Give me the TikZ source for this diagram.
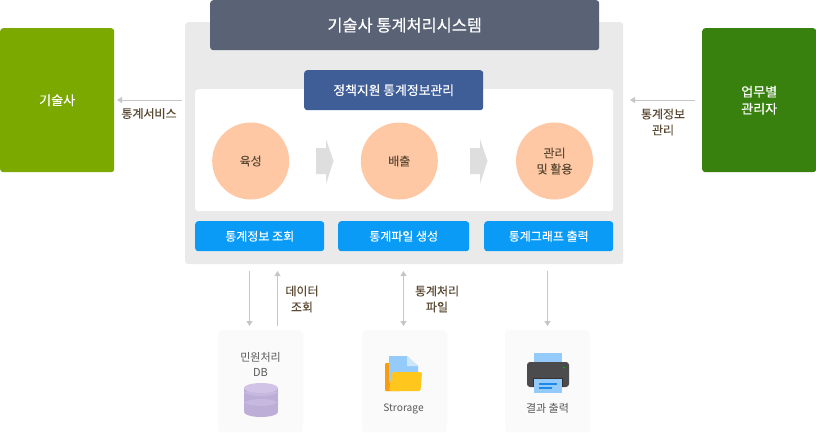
\documentclass[tikz,border=0pt]{standalone}
\usepackage{fontspec}
\setmainfont{Noto Sans CJK KR}
\newfontfamily\krm[FakeBold=0.2]{Noto Sans CJK KR}
\newfontfamily\krb[FakeBold=0.45]{Noto Sans CJK KR}
\usetikzlibrary{arrows.meta}
\definecolor{panel}{HTML}{EAEAEA}
\definecolor{lab}{HTML}{5B4A33}
\definecolor{arr}{HTML}{C6C6C6}
\definecolor{peach}{HTML}{FFC8A5}
\definecolor{btn}{HTML}{0A9BF7}
\definecolor{cardc}{HTML}{FAFAFA}
\definecolor{dbc}{HTML}{BDAED8}
\definecolor{dbm}{HTML}{C6B8DE}
\definecolor{dbl}{HTML}{D0C3E6}
\definecolor{headc}{HTML}{5A6276}
\definecolor{subc}{HTML}{3F5E98}
\definecolor{engc}{HTML}{7BA900}
\definecolor{mgrc}{HTML}{38810F}
\definecolor{paper}{HTML}{94CBFA}
\definecolor{paperl}{HTML}{CDE6FA}
\definecolor{foldy}{HTML}{FFC61E}
\definecolor{foldo}{HTML}{F99D0E}
\definecolor{printc}{HTML}{4B4B4E}
\definecolor{printd}{HTML}{323234}
\definecolor{lineb}{HTML}{1E88E5}
\tikzset{
 box/.style={rounded corners=3pt,inner sep=0pt,anchor=north west,text=white},
 lbl/.style={text=lab,font=\krm\fontsize{12}{16}\selectfont,align=center,inner sep=0pt},
 circ/.style={circle,fill=peach,minimum size=77pt,inner sep=0pt,text=lab,font=\krm\fontsize{12}{16}\selectfont,align=center},
 btnbox/.style={box,fill=btn,minimum height=30pt,font=\krm\fontsize{12}{16}\selectfont},
 card/.style={box,fill=cardc,minimum width=85pt,minimum height=102pt},
 ctext/.style={text=black!65,font=\fontsize{11}{15}\selectfont,align=center,inner sep=0pt},
 con/.style={draw=arr,line width=1pt,-{Triangle[length=5pt,width=6pt]}},
 chev/.style={fill=black!13,draw=none}
}
\begin{document}
\begin{tikzpicture}[x=1pt,y=-1pt]
\useasboundingbox (0,0) rectangle (816,432);
\node[box,fill=panel,minimum width=438pt,minimum height=242pt] (main) at (185,22) {};
\node[box,fill=white,minimum width=418pt,minimum height=122pt] (inner) at (195,89) {};
\node[box,fill=headc,minimum width=389pt,minimum height=50pt,font=\krb\fontsize{16.4}{20}\selectfont] (head) at (210,0) {기술사 통계처리시스템};
\node[box,fill=subc,minimum width=179pt,minimum height=40pt,font=\krb\fontsize{12.8}{16}\selectfont] (sub) at (304,70) {정책지원 통계정보관리};
\node[box,fill=engc,minimum width=114pt,minimum height=144pt,font=\krb\fontsize{13}{16}\selectfont] (eng) at (0,28) {기술사};
\node[box,fill=mgrc,minimum width=114pt,minimum height=144pt,align=center,font=\krb\fontsize{13}{17}\selectfont] (mgr) at (702,28) {업무별\\관리자};
\node[circ] (c1) at (250.7,161) {육성};
\node[circ] (c2) at (399.3,161) {배출};
\node[circ] (c3) at (554.5,161) {관리\\및 활용};
\fill[chev] (316,148) -- (326,148) -- (326,139) -- (333.5,161) -- (326,184) -- (326,174) -- (316,174) -- cycle;
\fill[chev] (470,148) -- (480,148) -- (480,139) -- (487.5,161) -- (480,184) -- (480,174) -- (470,174) -- cycle;
\node[btnbox,minimum width=129pt] (b1) at (195,221) {통계정보 조회};
\node[btnbox,minimum width=131pt] (b2) at (338,221) {통계파일 생성};
\node[btnbox,minimum width=129pt] (b3) at (484,221) {통계그래프 출력};
\node[card] (d1) at (218,330) {};
\node[card] (d2) at (362,330) {};
\node[card] (d3) at (505,330) {};
\node[ctext] (t1) at (260.5,364.5) {민원처리\\DB};
\node[ctext,font=\fontsize{10.2}{15}\selectfont] (t2) at (403.5,408.5) {Strorage};
\node[ctext] (t3) at (547.5,408.8) {결과 출력};
% connectors
\coordinate (a1s) at (182,100); \coordinate (a1e) at (117,100);
\coordinate (a2s) at (695,100); \coordinate (a2e) at (630,100);
\coordinate (a3s) at (249.5,271); \coordinate (a3e) at (249.5,326);
\coordinate (a4s) at (277.5,326); \coordinate (a4e) at (277.5,271);
\coordinate (a5s) at (403.5,271); \coordinate (a5e) at (403.5,326);
\coordinate (a6s) at (547.5,271); \coordinate (a6e) at (547.5,326);
\draw[con] (a1s) -- (a1e);
\draw[con] (a2s) -- (a2e);
\draw[con] (a3s) -- (a3e);
\draw[con] (a4s) -- (a4e);
\draw[con,{Triangle[length=5pt,width=6pt]}-{Triangle[length=5pt,width=6pt]}] (a5s) -- (a5e);
\draw[con] (a6s) -- (a6e);
\node[lbl] (l1) at (149,113.5) {통계서비스};
\node[lbl] (l2) at (663,122) {통계정보\\관리};
\node[lbl] (l3) at (302,299) {데이터\\조회};
\node[lbl] (l4) at (437,299) {통계처리\\파일};
% DB icon
\fill[dbc] (244,388) rectangle (278,412);
\fill[dbc] (261,412) ellipse (17pt and 5pt);
\fill[dbm] (244,401) arc[start angle=180,end angle=360,x radius=17pt,y radius=5pt] -- (278,404) arc[start angle=0,end angle=-180,x radius=17pt,y radius=-5pt] -- cycle;
\fill[dbm] (244,391) arc[start angle=180,end angle=360,x radius=17pt,y radius=5pt] -- (278,394) arc[start angle=0,end angle=-180,x radius=17pt,y radius=-5pt] -- cycle;
\fill[dbl] (261,388) ellipse (17pt and 5pt);
% folder icon
\fill[foldo,rounded corners=1pt] (385,363) rectangle (400,391);
\fill[paper] (389,356) -- (407,356) -- (418,366) -- (418,382) -- (389,382) -- cycle;
\fill[paperl] (407,356) -- (418,366) -- (407,366) -- cycle;
\fill[foldy,rounded corners=1.5pt] (392,372) -- (422,372) -- (420.5,391) -- (389,391) -- cycle;
% printer icon
\fill[paper] (534,353) rectangle (562,366);
\fill[printc,rounded corners=3pt] (527,362) rectangle (569,387);
\fill[printd] (533,378) rectangle (563,387);
\fill[paper] (534,379) rectangle (562,393);
\fill[lineb] (539,383) rectangle (557,385);
\fill[lineb] (539,387) rectangle (552,389);
\fill[green!70!black] (564,367.5) circle (1pt);
\end{tikzpicture}
\end{document}
